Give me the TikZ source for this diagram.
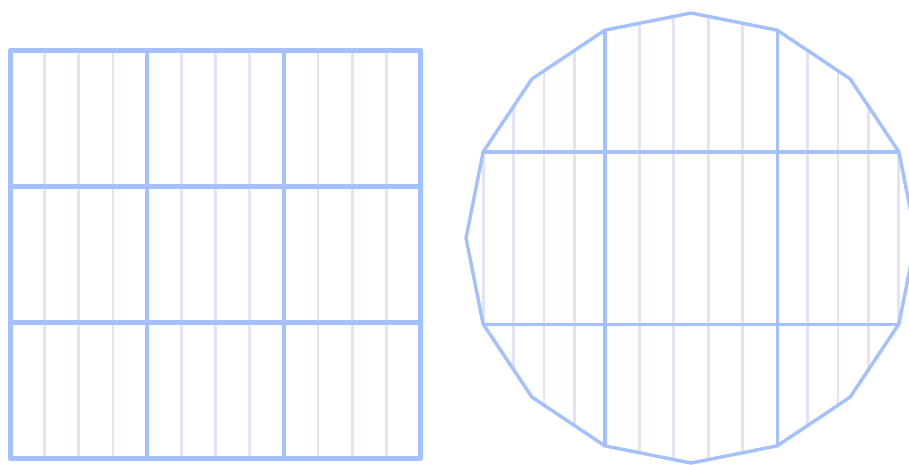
\documentclass[tikz,border=0pt]{standalone}
\usetikzlibrary{calc}
\definecolor{rasterblau}{RGB}{164,192,255}
\definecolor{haarlinie}{RGB}{226,228,243}
\tikzset{
  fein/.style={draw=haarlinie,line width=2.8pt},
  dick/.style={draw=rasterblau,line width=4.5pt,line cap=round},
  rand/.style={draw=rasterblau,line width=3.4pt,line join=round},
  innen/.style={draw=rasterblau,line width=3.2pt},
}
\begin{document}
\begin{tikzpicture}[x=1pt,y=-1pt]
  \useasboundingbox (0,0) rectangle (909,464);
  % square with 3x3 cells
  \coordinate (q0) at (10.5,50.5);
  \foreach \i in {1,...,11} \draw[fein] ($(q0)+(34.17*\i,0)$) -- ++(0,408);
  \foreach \i in {0,...,3} {
    \draw[dick] ($(q0)+(136.7*\i,0)$) -- ++(0,408);
    \draw[dick] ($(q0)+(0,136*\i)$) -- ++(410,0);
  }
  % sixteen-gon
  \coordinate (m) at (691,238);
  \foreach \k in {0,...,15} \coordinate (p\k) at ($(m)+({90+22.5*\k}:225)$);
  \begin{scope}
    \clip (p0) \foreach \k in {1,...,15} { -- (p\k) } -- cycle;
    \foreach \t in {0,0.25,0.5,0.75} \draw[fein] ($(p3)!\t!(p1)$) +(0,-500) -- +(0,500);
    \foreach \t in {0.2,0.4,0.6,0.8} \draw[fein] ($(p1)!\t!(p15)$) +(0,-500) -- +(0,500);
    \foreach \t in {0.25,0.5,0.75,1} \draw[fein] ($(p15)!\t!(p13)$) +(0,-500) -- +(0,500);
  \end{scope}
  \draw[innen] (p3) -- (p13);
  \draw[innen] (p5) -- (p11);
  \draw[innen] (p1) -- (p7);
  \draw[innen] (p15) -- (p9);
  \draw[rand] (p0) \foreach \k in {1,...,15} { -- (p\k) } -- cycle;
\end{tikzpicture}
\end{document}
